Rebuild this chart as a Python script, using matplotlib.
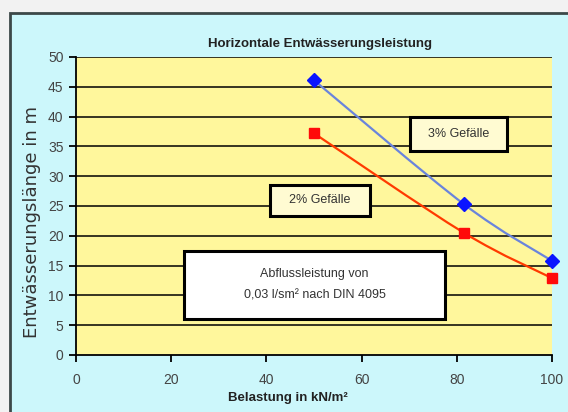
import matplotlib as mpl
mpl.use('Agg')
import matplotlib.pyplot as plt
from matplotlib.path import Path
from matplotlib.patches import PathPatch, Rectangle
import numpy as np

# data
belastung_3 = [50, 81.5, 100]
laenge_3 = [46.1, 25.3, 15.8]
belastung_2 = [50, 81.5, 100]
laenge_2 = [37.2, 20.5, 12.9]
yticks = list(range(0, 51, 5))
xticks = [0, 20, 40, 60, 80, 100]

narrow = ['Liberation Sans Narrow', 'Liberation Sans', 'DejaVu Sans']
bold = ['Liberation Sans', 'DejaVu Sans']


def smooth_path(xs, ys):
    # excel-like smoothed line: bezier segments through the given points
    p = np.column_stack([xs, ys]).astype(float)
    pts = np.vstack([p[0], p, p[-1]])
    verts = [p[0]]
    codes = [Path.MOVETO]
    for i in range(1, len(pts) - 2):
        c1 = pts[i] + (pts[i + 1] - pts[i - 1]) / 6
        c2 = pts[i + 1] - (pts[i + 2] - pts[i]) / 6
        verts += [c1, c2, pts[i + 1]]
        codes += [Path.CURVE4] * 3
    return Path(verts, codes)


fig = plt.figure(figsize=(5.68, 4.12), dpi=100)
fig.patch.set_facecolor('#f2f2f2')
fig.patches.append(Rectangle((10 / 568, -0.05), 1.1, 1 - 13 / 412 + 0.05,
                             transform=fig.transFigure, facecolor='#ccf7fb',
                             edgecolor='#3c4848', lw=2, zorder=-5))

ax = fig.add_axes([76 / 568, 1 - 355 / 412, 476 / 568, 298 / 412])
ax.set_zorder(1)
ax.set_facecolor('#fff79c')
ax.set_xlim(0, 100)
ax.set_ylim(0, 50)
ax.set_yticks(yticks)
ax.set_xticks(xticks)
for y in yticks[1:]:
    ax.axhline(y, color='black', lw=1.1, zorder=1)
for s in ['top', 'right']:
    ax.spines[s].set_visible(False)
ax.spines['left'].set_linewidth(1.3)
ax.spines['bottom'].set_linewidth(1.3)
ax.tick_params(direction='out', length=5, width=1.3, colors='black',
               labelcolor='#444444', pad=4)
ax.tick_params(axis='x', pad=8)
for lab in ax.get_xticklabels() + ax.get_yticklabels():
    lab.set_family(narrow)
    lab.set_fontsize(10)

ax.add_patch(PathPatch(smooth_path(belastung_3, laenge_3), fill=False,
                       edgecolor='#6a84dc', lw=1.6, zorder=3))
ax.add_patch(PathPatch(smooth_path(belastung_2, laenge_2), fill=False,
                       edgecolor='#ff3a00', lw=1.6, zorder=3))
ax.plot(belastung_3, laenge_3, ls='none', marker='D', ms=7, color='#0a14ff',
        zorder=4, clip_on=False)
ax.plot(belastung_2, laenge_2, ls='none', marker='s', ms=7.5, color='#ff0a0a',
        zorder=4, clip_on=False)

fig.text(320 / 568, 1 - 44 / 412, 'Horizontale Entwässerungsleistung',
         ha='center', va='center', fontsize=9.5, fontweight='bold',
         family=bold, color='#222222')
fig.text(288 / 568, 1 - 398 / 412, 'Belastung in kN/m²', ha='center',
         va='center', fontsize=9.5, fontweight='bold', family=bold,
         color='#222222')
fig.text(32 / 568, 1 - 222 / 412, 'Entwässerungslänge in m', ha='center',
         va='center', rotation=90, fontsize=13, family='DejaVu Sans',
         color='#333333')

# annotation boxes, drawn in figure pixels on top of the axes
boxes = [
    (410, 117, 507, 151, '3% Gefälle', '#fffbd2'),
    (270, 185, 370, 216, '2% Gefälle', '#fffbd2'),
    (184, 251, 445, 319, 'Abflussleistung von\n0,03 l/sm² nach DIN 4095', 'white'),
]
for x0, y0, x1, y1, txt, fc in boxes:
    fig.patches.append(Rectangle((x0 / 568, 1 - y1 / 412), (x1 - x0) / 568,
                                 (y1 - y0) / 412, transform=fig.transFigure,
                                 facecolor=fc, edgecolor='black', lw=2.2,
                                 zorder=5))
    fig.text((x0 + x1) / 2 / 568, 1 - (y0 + y1) / 2 / 412, txt, ha='center',
             va='center', fontsize=9, family=narrow, color='#333333',
             linespacing=2.0, zorder=6)

plt.savefig('out.png', dpi=100, facecolor=fig.get_facecolor())
